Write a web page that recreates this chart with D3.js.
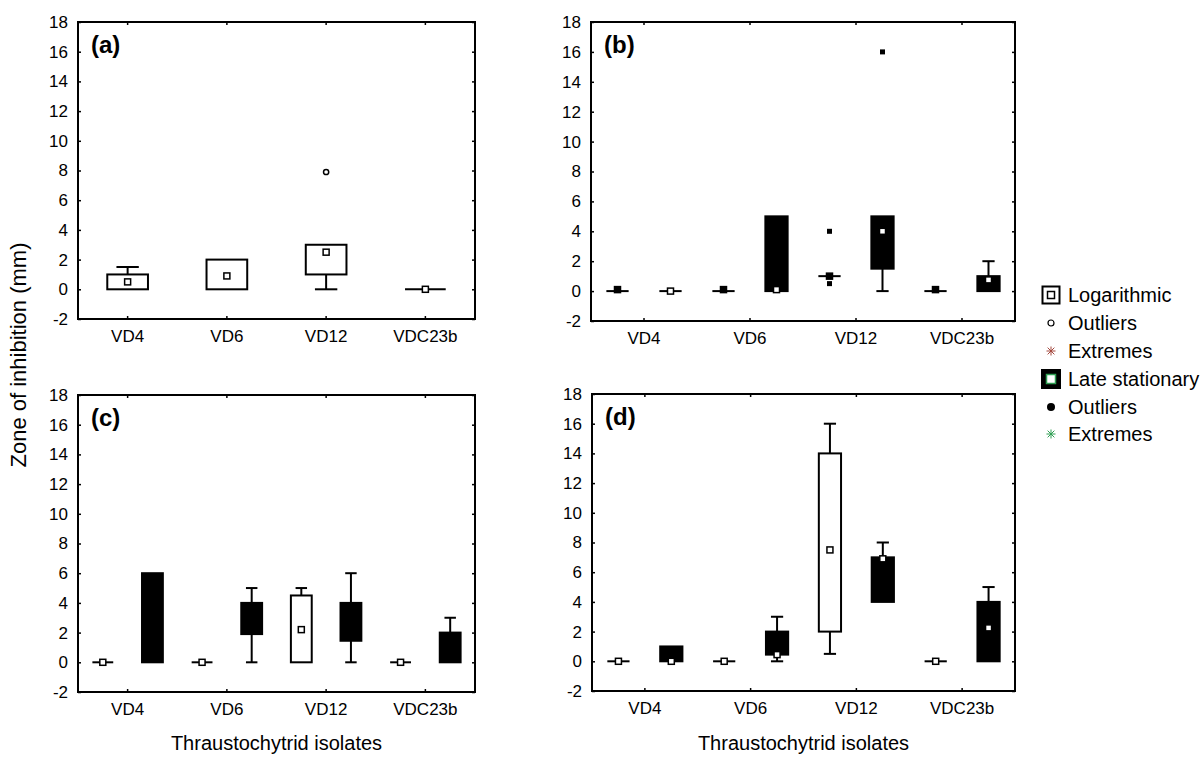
<!DOCTYPE html>
<html>
<head>
<meta charset="utf-8">
<script src="https://cdn.jsdelivr.net/npm/d3@7"></script>
<style>
  body { margin: 0; background: #fff; }
  svg { font-family: "Liberation Sans", Arial, sans-serif; }
</style>
</head>
<body>
<div id="chart"></div>
<script>
var width = 1204;
var height = 758;

var isolates = ["VD4", "VD6", "VD12", "VDC23b"];
var yTickValues = [-2, 0, 2, 4, 6, 8, 10, 12, 14, 16, 18];
var panelLabels = ["(a)", "(b)", "(c)", "(d)"];
var legendLabels = ["Logarithmic", "Outliers", "Extremes", "Late stationary", "Outliers", "Extremes"];

// box summaries per isolate: [min, q1, median, q3, max]
var aLog = [[0, 0, 0.5, 1, 1.5], [0, 0, 0.9, 2, 2], [0, 1, 2.5, 3, 3], [0, 0, 0, 0, 0]];
var aLogOutliers = [["VD12", 7.9]];

var bLog = [[0, 0, 0.1, 0, 0], [0, 0, 0.1, 0, 0], [1, 1, 1, 1, 1], [0, 0, 0.1, 0, 0]];
var bLate = [[0, 0, 0, 0, 0], [0, 0, 0.1, 5, 5], [0, 1.5, 4, 5, 5], [0, 0, 0.75, 1, 2]];
var bLogOutliers = [["VD12", 4], ["VD12", 0.5]];
var bLateOutliers = [["VD12", 16]];

var cLog = [[0, 0, 0, 0, 0], [0, 0, 0, 0, 0], [0, 0, 2.2, 4.5, 5], [0, 0, 0, 0, 0]];
var cLate = [[0, 0, null, 6, 6], [0, 1.9, null, 4, 5], [0, 1.45, null, 4, 6], [0, 0, null, 2, 3]];

var dLog = [[0, 0, 0, 0, 0], [0, 0, 0, 0, 0], [0.5, 2, 7.5, 14, 16], [0, 0, 0, 0, 0]];
var dLate = [[0, 0, 0, 1, 1], [0, 0.45, 0.45, 2, 3], [4, 4, 6.9, 7, 8], [0, 0, 2.25, 4, 5]];

var panels = [
  {label: panelLabels[0], left: 78, top: 22, right: 475, bottom: 319, log: aLog, late: null,
   logOut: aLogOutliers, lateOut: [], xTitle: false, darkLogMedian: false, squareOut: false},
  {label: panelLabels[1], left: 591, top: 22, right: 1015, bottom: 321, log: bLog, late: bLate,
   logOut: bLogOutliers, lateOut: bLateOutliers, xTitle: false, darkLogMedian: true, squareOut: true},
  {label: panelLabels[2], left: 78, top: 395, right: 475, bottom: 692, log: cLog, late: cLate,
   logOut: [], lateOut: [], xTitle: true, darkLogMedian: false, squareOut: false},
  {label: panelLabels[3], left: 592, top: 394, right: 1015, bottom: 691, log: dLog, late: dLate,
   logOut: [], lateOut: [], xTitle: true, darkLogMedian: false, squareOut: false}
];

var svg = d3.select("#chart").append("svg")
  .attr("width", width)
  .attr("height", height);

function hline(g, x1, x2, yy) {
  g.append("line").attr("x1", x1).attr("x2", x2).attr("y1", yy).attr("y2", yy)
    .attr("stroke", "#000").attr("stroke-width", 2);
}

function drawBoxes(g, data, y, center, boxW, filled, darkMedian) {
  data.forEach(function(s, i) {
    var cx = center(isolates[i]);
    var mn = s[0], q1 = s[1], med = s[2], q3 = s[3], mx = s[4];
    var capW = boxW * 0.55;
    // whiskers
    if (mx > q3) {
      g.append("line").attr("x1", cx).attr("x2", cx).attr("y1", y(q3)).attr("y2", y(mx))
        .attr("stroke", "#000").attr("stroke-width", 2);
      hline(g, cx - capW / 2, cx + capW / 2, y(mx));
    }
    if (mn < q1) {
      g.append("line").attr("x1", cx).attr("x2", cx).attr("y1", y(q1)).attr("y2", y(mn))
        .attr("stroke", "#000").attr("stroke-width", 2);
      hline(g, cx - capW / 2, cx + capW / 2, y(mn));
    }
    // box (a flat box is just a line)
    if (q3 > q1) {
      g.append("rect")
        .attr("x", cx - boxW / 2)
        .attr("y", y(q3))
        .attr("width", boxW)
        .attr("height", y(q1) - y(q3))
        .attr("fill", filled ? "#000" : "#fff")
        .attr("stroke", "#000")
        .attr("stroke-width", 2);
    } else {
      hline(g, cx - boxW / 2, cx + boxW / 2, y(q1));
    }
    // median marker
    if (med !== null) {
      g.append("rect")
        .attr("x", cx - 3)
        .attr("y", y(med) - 3)
        .attr("width", 6)
        .attr("height", 6)
        .attr("fill", darkMedian ? "#000" : "#fff")
        .attr("stroke", "#000")
        .attr("stroke-width", 1.5);
    }
  });
}

function drawOutliers(g, data, y, center, filled, square) {
  data.forEach(function(d) {
    if (square) {
      g.append("rect")
        .attr("x", center(d[0]) - 2.5)
        .attr("y", y(d[1]) - 2.5)
        .attr("width", 5).attr("height", 5)
        .attr("fill", "#000");
    } else {
      g.append("circle")
        .attr("cx", center(d[0]))
        .attr("cy", y(d[1]))
        .attr("r", 2.6)
        .attr("fill", filled ? "#000" : "#fff")
        .attr("stroke", "#000")
        .attr("stroke-width", 1.5);
    }
  });
}

panels.forEach(function(p) {
  var x = d3.scaleBand().domain(isolates).range([p.left, p.right]);
  var y = d3.scaleLinear().domain([-2, 18]).range([p.bottom, p.top]);
  var sub = d3.scaleBand().domain(["log", "late"]).range([0, x.bandwidth()]);

  var g = svg.append("g");

  // axes: labels outside, tiny ticks inside the frame
  var left = g.append("g").attr("transform", "translate(" + p.left + ",0)")
    .call(d3.axisLeft(y).tickValues(yTickValues).tickSize(-3).tickPadding(10).tickFormat(function(d) { return String(d); }));
  var right = g.append("g").attr("transform", "translate(" + p.right + ",0)")
    .call(d3.axisRight(y).tickValues(yTickValues).tickSize(-3).tickFormat(""));
  var bottom = g.append("g").attr("transform", "translate(0," + p.bottom + ")")
    .call(d3.axisBottom(x).tickSize(-3).tickPadding(11));
  var top = g.append("g").attr("transform", "translate(0," + p.top + ")")
    .call(d3.axisTop(x).tickSize(-3).tickFormat(""));

  [left, right, bottom, top].forEach(function(a) {
    a.select(".domain").remove();
    a.selectAll("line").attr("stroke", "#000").attr("stroke-width", 1.5);
    a.selectAll("text").style("font-size", "17px").style("fill", "#000")
      .style("font-family", "'Liberation Sans', Arial, sans-serif");
  });

  // frame
  g.append("rect")
    .attr("x", p.left).attr("y", p.top)
    .attr("width", p.right - p.left).attr("height", p.bottom - p.top)
    .attr("fill", "none").attr("stroke", "#000").attr("stroke-width", 2);

  if (p.late) {
    var boxW = x.bandwidth() * 0.21;
    var logCenter = function(k) { return x(k) + sub("log") + sub.bandwidth() / 2; };
    var lateCenter = function(k) { return x(k) + sub("late") + sub.bandwidth() / 2; };
    drawBoxes(g, p.log, y, logCenter, boxW, false, p.darkLogMedian);
    drawBoxes(g, p.late, y, lateCenter, boxW, true, false);
    drawOutliers(g, p.logOut, y, logCenter, true, p.squareOut);
    drawOutliers(g, p.lateOut, y, lateCenter, true, p.squareOut);
  } else {
    var boxW1 = x.bandwidth() * 0.41;
    var midCenter = function(k) { return x(k) + x.bandwidth() / 2; };
    drawBoxes(g, p.log, y, midCenter, boxW1, false, false);
    drawOutliers(g, p.logOut, y, midCenter, false, false);
  }

  g.append("text")
    .attr("x", p.left + 13)
    .attr("y", p.top + 31)
    .style("font-size", "24px")
    .style("font-weight", "bold")
    .text(p.label);

  if (p.xTitle) {
    g.append("text")
      .attr("x", (p.left + p.right) / 2)
      .attr("y", 750)
      .attr("text-anchor", "middle")
      .style("font-size", "20px")
      .text("Thraustochytrid isolates");
  }
});

// y-axis title
svg.append("text")
  .attr("transform", "translate(26,355) rotate(-90)")
  .attr("text-anchor", "middle")
  .style("font-size", "22px")
  .text("Zone of inhibition (mm)");

// legend
var legend = svg.append("g").attr("transform", "translate(1051,0)");
var rowY = [295, 323, 351, 379, 407, 434];

function asterisk(g, cy, color) {
  var r = 4.5;
  [[0, -r, 0, r], [-r, 0, r, 0], [-r * 0.75, -r * 0.75, r * 0.75, r * 0.75], [-r * 0.75, r * 0.75, r * 0.75, -r * 0.75]]
    .forEach(function(s) {
      g.append("line").attr("x1", s[0]).attr("y1", cy + s[1]).attr("x2", s[2]).attr("y2", cy + s[3])
        .attr("stroke", color).attr("stroke-width", 1);
    });
}

legend.append("rect").attr("x", -8.5).attr("y", rowY[0] - 8.5).attr("width", 17).attr("height", 17)
  .attr("fill", "#fff").attr("stroke", "#000").attr("stroke-width", 2);
legend.append("rect").attr("x", -3.5).attr("y", rowY[0] - 3.5).attr("width", 7).attr("height", 7)
  .attr("fill", "#fff").attr("stroke", "#000").attr("stroke-width", 1.5);
legend.append("circle").attr("cx", 0).attr("cy", rowY[1]).attr("r", 3)
  .attr("fill", "#fff").attr("stroke", "#000").attr("stroke-width", 1.2);
asterisk(legend, rowY[2], "#a4483e");
legend.append("rect").attr("x", -10).attr("y", rowY[3] - 10).attr("width", 20).attr("height", 20)
  .attr("fill", "#000");
legend.append("rect").attr("x", -4.5).attr("y", rowY[3] - 4.5).attr("width", 9).attr("height", 9)
  .attr("fill", "#fff").attr("stroke", "#2e9e52").attr("stroke-width", 1.5);
legend.append("circle").attr("cx", 0).attr("cy", rowY[4]).attr("r", 4).attr("fill", "#000");
asterisk(legend, rowY[5], "#2e9e52");

legend.selectAll(".lbl")
  .data(legendLabels)
  .enter().append("text")
  .attr("class", "lbl")
  .attr("x", 17)
  .attr("y", function(d, i) { return rowY[i]; })
  .attr("dy", "0.35em")
  .style("font-size", "20px")
  .text(function(d) { return d; });
</script>
</body>
</html>
